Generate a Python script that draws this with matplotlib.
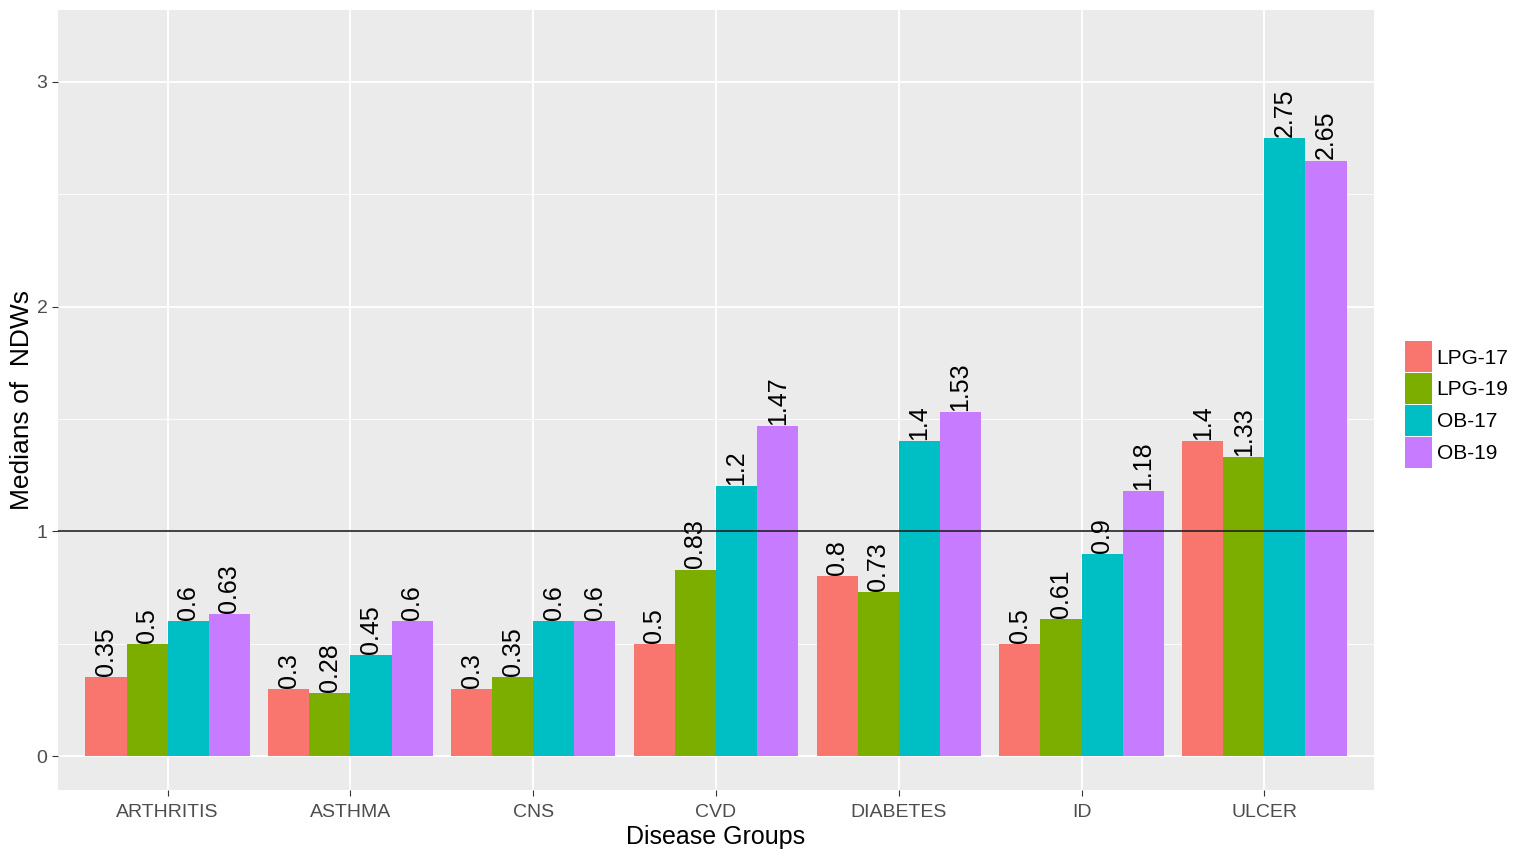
import numpy as np
import matplotlib
matplotlib.use("Agg")
import matplotlib.pyplot as plt
from matplotlib.patches import Patch

plt.rcParams['font.family'] = ['Liberation Sans', 'DejaVu Sans']

# data
groups = ["ARTHRITIS", "ASTHMA", "CNS", "CVD", "DIABETES", "ID", "ULCER"]
series = ["LPG-17", "LPG-19", "OB-17", "OB-19"]
lpg17 = [0.35, 0.3, 0.3, 0.5, 0.8, 0.5, 1.4]
lpg19 = [0.5, 0.28, 0.35, 0.83, 0.73, 0.61, 1.33]
ob17 = [0.6, 0.45, 0.6, 1.2, 1.4, 0.9, 2.75]
ob19 = [0.63, 0.6, 0.6, 1.47, 1.53, 1.18, 2.65]
colors = ["#F8766D", "#7CAE00", "#00BFC4", "#C77CFF"]

fig = plt.figure(figsize=(15.19, 8.66), dpi=100)
ax = fig.add_axes([58 / 1519, 1 - 790 / 866, (1374 - 58) / 1519, (790 - 10) / 866])

ax.set_facecolor("#EBEBEB")
for s in ax.spines.values():
    s.set_visible(False)

x = np.arange(len(groups))
w = 0.9 / 4
all_vals = [lpg17, lpg19, ob17, ob19]

# grid first (ggplot style)
ax.set_axisbelow(True)
ax.set_yticks([0, 1, 2, 3])
ax.set_yticks([0.5, 1.5, 2.5], minor=True)
ax.grid(which="major", color="white", linewidth=1.3)
ax.grid(which="minor", axis="y", color="white", linewidth=0.6)

for i, vals in enumerate(all_vals):
    pos = x - 0.45 + w * (i + 0.5)
    ax.bar(pos, vals, width=w, color=colors[i], edgecolor="none", zorder=2)
    for px, v in zip(pos, vals):
        ax.text(px, v + 0.005, f"{v:g}", rotation=90, ha="center", va="bottom",
                fontsize=18, color="black", zorder=3)

ax.axhline(1, color="#222222", linewidth=1.2, zorder=2.5)

ax.set_xlim(-0.6, 6.6)
ax.set_ylim(-0.151, 3.32)
ax.set_xticks(x)
ax.set_xticklabels(groups)
ax.tick_params(which="major", length=4, color="#333333", labelcolor="#4D4D4D", labelsize=14)
ax.tick_params(axis="x", pad=6)
ax.tick_params(which="minor", length=0)
ax.set_xlabel("Disease Groups", fontsize=18, color="black", labelpad=3)
ax.set_ylabel("Medians of  NDWs", fontsize=19, color="black", labelpad=2)

handles = [Patch(facecolor=c, edgecolor="none") for c in colors]
fig.legend(handles, series, loc="upper left", bbox_to_anchor=(1397 / 1519, 1 - 333 / 866),
           frameon=False, fontsize=15, handlelength=1.3, handleheight=1.92,
           labelspacing=0.03, handletextpad=0.2, borderaxespad=0)

fig.savefig("out.png", dpi=100)
